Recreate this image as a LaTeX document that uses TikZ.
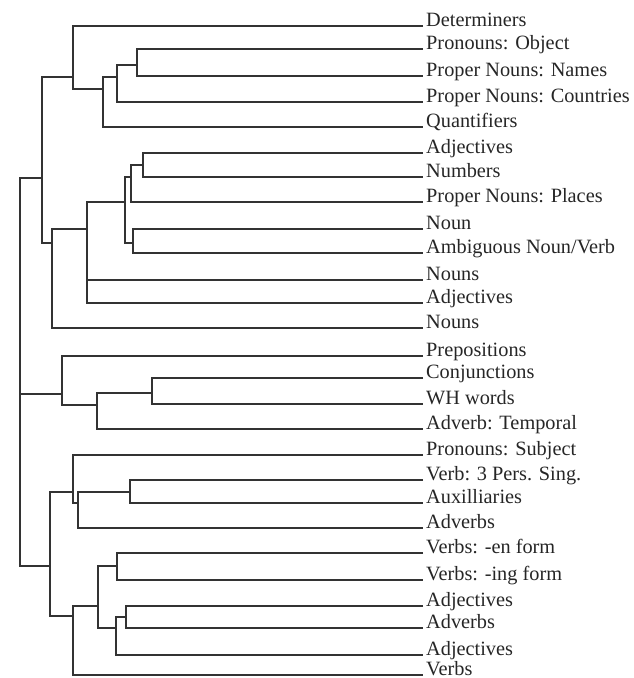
\documentclass[tikz,border=0pt]{standalone}
\usepackage{fontspec}
\setmainfont{Liberation Serif}
\tikzset{branch/.style={draw=black!80, line width=1.8pt},
  leaf/.style={anchor=base west, inner xsep=3pt, inner ysep=0pt,
    text=black!85, font=\fontsize{20.3}{24}\selectfont}}
\begin{document}
\begin{tikzpicture}[x=1pt, y=-1pt]
    \useasboundingbox (0,0) rectangle (633,678);
    \foreach \y/\t [count=\i] in {26/Determiners, 49/Pronouns: Object,
      76/Proper Nouns: Names, 102/Proper Nouns: Countries, 127/Quantifiers,
      153/Adjectives, 177/Numbers, 202/Proper Nouns: Places, 229/Noun,
      253/{Ambiguous Noun/Verb}, 280/Nouns, 303/Adjectives, 328/Nouns,
      356/Prepositions, 378/Conjunctions, 404/WH words, 429/Adverb: Temporal,
      455/Pronouns: Subject, 480/Verb: 3 Pers. Sing., 503/Auxilliaries,
      528/Adverbs, 553/Verbs: -en form, 580/Verbs: -ing form, 606/Adjectives,
      628/Adverbs, 655/Adjectives, 675/Verbs}
      \node[leaf] (l\i) at (423,\y) {\t};
    \coordinate (a4) at (137,65); \coordinate (a3) at (117,77);
    \coordinate (a2) at (103,89); \coordinate (a1) at (73,77);
    \coordinate (b5) at (143,165); \coordinate (b4) at (131,177);
    \coordinate (b6) at (133,243); \coordinate (b3) at (125,202);
    \coordinate (b2) at (87,229); \coordinate (b1) at (52,243);
    \coordinate (ab) at (42,178);
    \coordinate (c3) at (152,393); \coordinate (c2) at (97,405);
    \coordinate (c1) at (62,394);
    \coordinate (d4) at (130,492); \coordinate (d3) at (78,503);
    \coordinate (d2) at (73,492); \coordinate (d1) at (50,566);
    \coordinate (e4) at (117,566); \coordinate (e6) at (126,617);
    \coordinate (e5) at (116,628); \coordinate (e3) at (98,606);
    \coordinate (e2) at (73,616); \coordinate (root) at (20,394);
    % top group
    \draw[branch] (l2.base west) -| (a4) |- (l3.base west);
    \draw[branch] (a4) -| (a3) |- (l4.base west);
    \draw[branch] (a3) -| (a2) |- (l5.base west);
    \draw[branch] (l1.base west) -| (a1) |- (a2);
    \draw[branch] (l6.base west) -| (b5) |- (l7.base west);
    \draw[branch] (b5) -| (b4) |- (l8.base west);
    \draw[branch] (l9.base west) -| (b6) |- (l10.base west);
    \draw[branch] (b4) -| (b3) |- (b6);
    \draw[branch] (b3) -| (b2) |- (l12.base west);
    \draw[branch] (b2 |- l11.base) -- (l11.base west);
    \draw[branch] (b2) -| (b1) |- (l13.base west);
    \draw[branch] (a1) -| (ab) |- (b1);
    % middle group
    \draw[branch] (l15.base west) -| (c3) |- (l16.base west);
    \draw[branch] (c3) -| (c2) |- (l17.base west);
    \draw[branch] (l14.base west) -| (c1) |- (c2);
    % bottom group
    \draw[branch] (l19.base west) -| (d4) |- (l20.base west);
    \draw[branch] (d4) -| (d3) |- (l21.base west);
    \draw[branch] (l18.base west) -| (d2) |- (d3);
    \draw[branch] (l22.base west) -| (e4) |- (l23.base west);
    \draw[branch] (l24.base west) -| (e6) |- (l25.base west);
    \draw[branch] (e6) -| (e5) |- (l26.base west);
    \draw[branch] (e4) -| (e3) |- (e5);
    \draw[branch] (e3) -| (e2) |- (l27.base west);
    \draw[branch] (d2) -| (d1) |- (e2);
    % root
    \draw[branch] (ab) -| (root) |- (d1); \draw[branch] (root) -- (c1);
\end{tikzpicture}
\end{document}
